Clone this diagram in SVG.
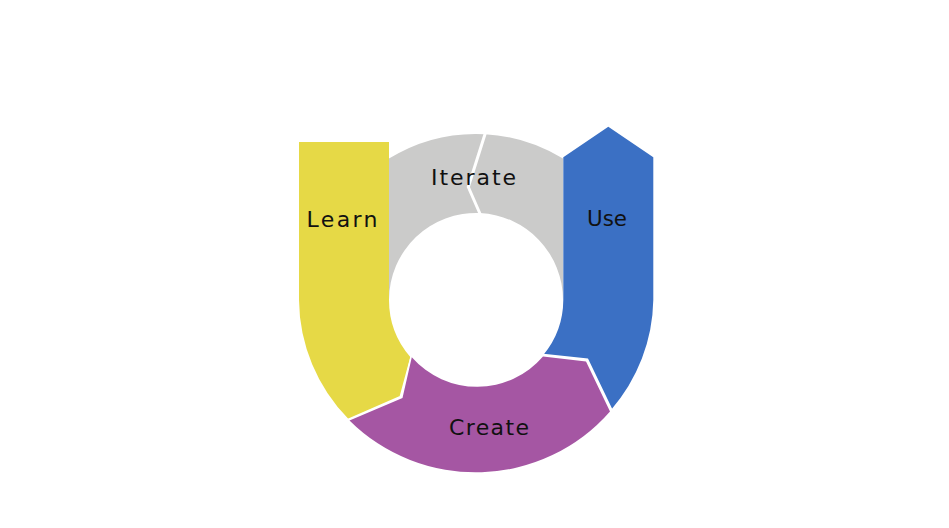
<svg xmlns="http://www.w3.org/2000/svg" width="949" height="528" viewBox="0 0 949 528">
  <style>
    .lbl { font-family: "DejaVu Sans", "Liberation Sans", sans-serif; font-size: 22px; fill: #111; text-anchor: middle; }
    .sep { fill: none; stroke: #ffffff; stroke-width: 3; stroke-linejoin: miter; }
  </style>
  <rect width="949" height="528" fill="#ffffff"/>
  <g id="iterate">
    <path d="M 389 158.6 A 166 166 0 0 1 485 134.2 L 468.3 187 L 480 213.1 A 87 87 0 0 0 389 300 Z" fill="#CBCBCA"/>
    <path d="M 485 134.2 A 166 166 0 0 1 563 158.6 L 563 300 A 87 87 0 0 0 480 213.1 L 468.3 187 Z" fill="#CBCBCA"/>
    <polyline class="sep" points="486,131 468.3,187 481,216"/>
    <text class="lbl" x="473.5" y="185" textLength="85" lengthAdjust="spacing">Iterate</text>
  </g>
  <g id="learn">
    <path d="M 299 142 H 389 V 300 A 87 87 0 0 0 410.3 357.1 L 401 397 L 348.5 419 A 177 174 0 0 1 299 300 Z" fill="#E6D946"/>
    <text class="lbl" x="342" y="227" textLength="71" lengthAdjust="spacing">Learn</text>
  </g>
  <g id="use">
    <path d="M 611 410 L 587 360 L 543.3 355 A 87 87 0 0 0 563.3 300 V 157.3 L 608.3 126.7 L 653.3 157.3 V 300 A 177 174 0 0 1 611 410 Z" fill="#3B70C4"/>
    <text class="lbl" x="607" y="226" textLength="40" lengthAdjust="spacingAndGlyphs">Use</text>
  </g>
  <g id="connectors">
    <polyline class="sep" points="412,356.5 401,397 346,421"/>
    <polyline class="sep" points="541,355 587,360 612,412"/>
  </g>
  <g id="create">
    <path d="M 349.5 420.5 L 402.5 398 L 411.8 357.3 A 87 87 0 0 0 543 356.5 L 586 361.5 L 610 411.5 A 177 174 0 0 1 349.5 420.5 Z" fill="#A556A3"/>
    <text class="lbl" x="489" y="435" textLength="80" lengthAdjust="spacing">Create</text>
  </g>
</svg>
